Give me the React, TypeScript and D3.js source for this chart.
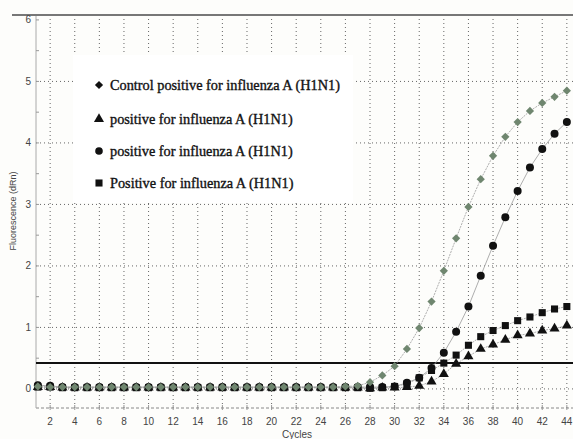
import React from 'react';
import * as d3 from 'd3';

const W = 573, H = 439;

const cycles = d3.range(1, 45);

// control positive (diamond)
const control = [0.04, 0.03, 0.03, 0.03, 0.03, 0.03, 0.03, 0.03, 0.03, 0.03, 0.03, 0.03, 0.03, 0.03,
  0.03, 0.03, 0.03, 0.03, 0.03, 0.03, 0.03, 0.03, 0.03, 0.03, 0.03, 0.04, 0.05,
  0.11, 0.22, 0.37, 0.65, 0.99, 1.42, 1.92, 2.45, 2.96, 3.41, 3.79, 4.10, 4.34, 4.52, 4.65, 4.75, 4.85];
// triangle
const tri = [0.03, 0.03, 0.02, 0.02, 0.02, 0.02, 0.02, 0.02, 0.02, 0.02, 0.02, 0.02, 0.02, 0.02,
  0.02, 0.02, 0.02, 0.02, 0.02, 0.02, 0.02, 0.02, 0.02, 0.02, 0.02, 0.02, 0.02,
  0.01, 0.02, 0.02, 0.03, 0.05, 0.12, 0.24, 0.41, 0.53, 0.65, 0.72, 0.80, 0.87, 0.90, 0.95, 0.98, 1.03];
// circle
const circ = [0.06, 0.05, 0.03, 0.03, 0.03, 0.03, 0.03, 0.03, 0.03, 0.03, 0.03, 0.03, 0.03, 0.03,
  0.03, 0.03, 0.03, 0.03, 0.03, 0.03, 0.03, 0.03, 0.03, 0.03, 0.03, 0.03, 0.03,
  0.03, 0.03, 0.04, 0.10, 0.18, 0.34, 0.59, 0.93, 1.34, 1.84, 2.33, 2.79, 3.22, 3.60, 3.90, 4.15, 4.34];
// square
const sq = [0.03, 0.03, 0.02, 0.02, 0.02, 0.02, 0.02, 0.02, 0.02, 0.02, 0.02, 0.02, 0.02, 0.02,
  0.02, 0.02, 0.02, 0.02, 0.02, 0.02, 0.02, 0.02, 0.02, 0.02, 0.02, 0.02, 0.02,
  0.01, 0.02, 0.04, 0.08, 0.18, 0.30, 0.42, 0.55, 0.71, 0.85, 0.95, 1.03, 1.11, 1.17, 1.24, 1.30, 1.34];

const threshold = 0.42;
const xTicks = d3.range(2, 45, 2);
const yTicks = [0, 1, 2, 3, 4, 5, 6];
const legendLabels = [
  'Control positive for influenza A (H1N1)',
  'positive for influenza A (H1N1)',
  'positive for influenza A (H1N1)',
  'Positive for influenza A (H1N1)',
];

export default function App() {
  const x = d3.scaleLinear().domain([0.85, 44.5]).range([36, 573]);
  const y = d3.scaleLinear().domain([-0.31, 6.08]).range([408, 15]);
  const line = d3.line<number>().x((_, i) => x(cycles[i])).y(d => y(d));

  const diamond = d3.symbol().type(d3.symbolSquare).size(34)()!;
  const triangle = d3.symbol().type(d3.symbolTriangle).size(44)()!;
  const square = d3.symbol().type(d3.symbolSquare).size(50)()!;
  const green = '#6f866f';
  const grid = '#666';

  const marks = (data: number[], shape: string | null, fill: string, r = 0, rot = 0) =>
    data.map((v, i) =>
      shape ? <path key={i} d={shape} transform={`translate(${x(cycles[i])},${y(v)}) rotate(${rot})`} fill={fill} />
        : <circle key={i} cx={x(cycles[i])} cy={y(v)} r={r} fill={fill} />);

  return (
    <svg width={W} height={H} style={{ position: 'absolute', left: 0, top: 0, background: '#fff' }}
      fontFamily="'Liberation Sans', Arial, sans-serif">
      <rect width={W} height={H} fill="#fdfdfb" />
      {/* grid */}
      {xTicks.map(t => (
        <line key={'gx' + t} x1={x(t)} x2={x(t)} y1={15} y2={408} stroke={grid} strokeWidth={1} strokeDasharray="1,3" />
      ))}
      {yTicks.slice(0, 6).map(t => (
        <line key={'gy' + t} x1={36} x2={W} y1={y(t)} y2={y(t)} stroke={grid} strokeWidth={1} strokeDasharray="1,3" />
      ))}
      <line x1={36} x2={W} y1={408} y2={408} stroke="#888" strokeDasharray="3,2" />
      <line x1={36} x2={36} y1={15} y2={408} stroke="#aaa" />
      <line x1={12} x2={W} y1={15} y2={15} stroke="#777" strokeWidth={2} />
      {d3.range(0, 6.01, 0.5).map(t => (
        <line key={'yt' + t} x1={36} x2={39} y1={y(t)} y2={y(t)} stroke="#999" />
      ))}
      {xTicks.map(t => (
        <line key={'xt' + t} x1={x(t)} x2={x(t)} y1={405} y2={410} stroke="#999" />
      ))}
      {/* tick labels */}
      {yTicks.map(t => (
        <text key={'yl' + t} x={31} y={y(t) + 3.5} textAnchor="end" fontSize={10} fill="#444">{t}</text>
      ))}
      {xTicks.map(t => (
        <text key={'xl' + t} x={x(t)} y={425} textAnchor="middle" fontSize={10} fill="#444">{t}</text>
      ))}
      <text x={297} y={438} textAnchor="middle" fontSize={10} fill="#444">Cycles</text>
      <text transform="translate(16,211) rotate(-90)" textAnchor="middle" fontSize={9} fill="#444">Fluorescence (dRn)</text>

      {/* legend */}
      <rect x={73} y={55} width={280} height={148} fill="#fff" />
      {legendLabels.map((l, i) => {
        const cy = [85, 119, 151, 183][i];
        const sym = i === 0 ? <path d={diamond} transform={`translate(99,${cy}) rotate(45)`} fill="#111" />
          : i === 1 ? <path d={triangle} transform={`translate(99,${cy})`} fill="#111" />
          : i === 2 ? <circle cx={99} cy={cy} r={3.8} fill="#111" />
          : <path d={square} transform={`translate(99,${cy})`} fill="#111" />;
        return (
          <g key={'lg' + i}>
            {sym}
            <text x={110} y={cy + 5} fontSize={14.3} fontFamily="'Liberation Serif', 'Times New Roman', serif"
              fill="#111" stroke="#111" strokeWidth={0.35}>{l}</text>
          </g>
        );
      })}

      {/* threshold */}
      <line x1={36} x2={W} y1={y(threshold)} y2={y(threshold)} stroke="#111" strokeWidth={2} />

      {/* series */}
      <path d={line(control)!} fill="none" stroke="#999" strokeWidth={0.8} strokeDasharray="2,1" />
      <path d={line(circ)!} fill="none" stroke="#999" strokeWidth={0.8} />
      <path d={line(sq)!} fill="none" stroke="#999" strokeWidth={0.8} strokeDasharray="2,1" />
      <path d={line(tri)!} fill="none" stroke="#999" strokeWidth={0.8} strokeDasharray="2,1" />
      {marks(circ, null, '#111', 4)}
      {marks(sq, square, '#111')}
      {marks(tri, triangle, '#111')}
      {marks(control, diamond, green, 0, 45)}
    </svg>
  );
}
